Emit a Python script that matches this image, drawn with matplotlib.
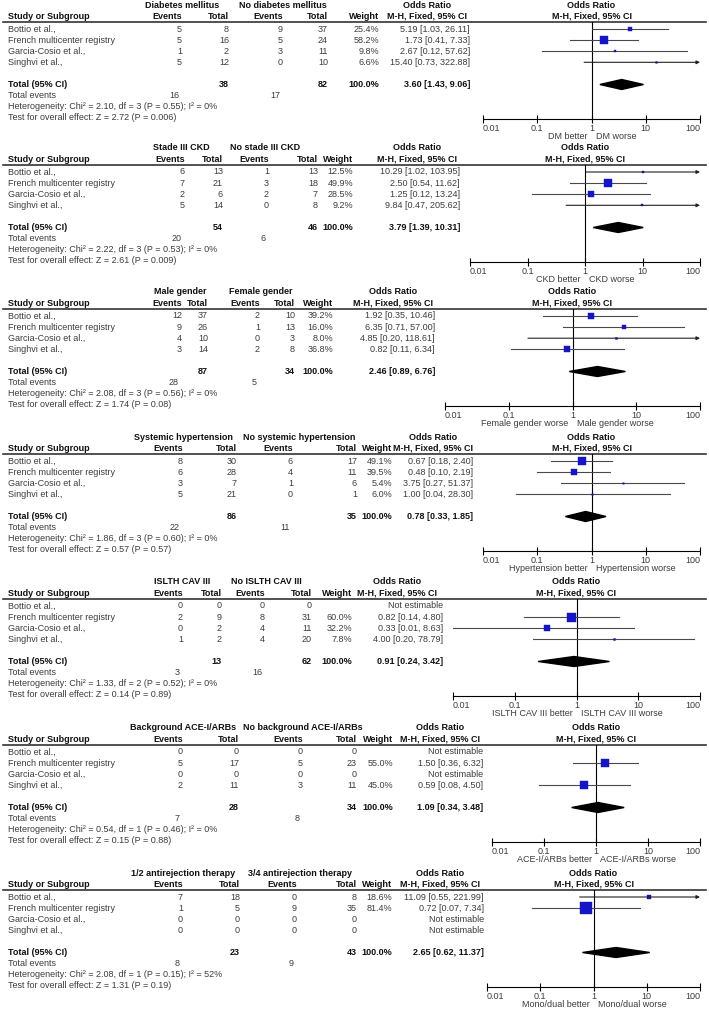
import matplotlib
matplotlib.use("Agg")
import matplotlib.pyplot as plt
from matplotlib.patches import Polygon

plt.rcParams['font.family'] = ['Liberation Sans', 'DejaVu Sans']

W, H = 709, 1009
FS = 6.5
GREY = '#3c3c3c'
DARK = '#111111'
BLUE = '#1414c8'

studies = ["Bottio et al.,", "French multicenter registry", "Garcia-Cosio et al.,", "Singhvi et al.,"]

# 1 - diabetes
dm_groups = ["Diabetes mellitus", "No diabetes mellitus"]
dm_ev1 = [5, 5, 1, 5]
dm_tot1 = [8, 16, 2, 12]
dm_ev2 = [9, 5, 3, 0]
dm_tot2 = [37, 24, 11, 10]
dm_w = [25.4, 58.2, 9.8, 6.6]
dm_or = [5.19, 1.73, 2.67, 15.40]
dm_lo = [1.03, 0.41, 0.12, 0.73]
dm_hi = [26.11, 7.33, 57.62, 322.88]
dm_totals = [38, 82]
dm_pooled = [3.60, 1.43, 9.06]
dm_events = [16, 17]
dm_het = "Heterogeneity: Chi² = 2.10, df = 3 (P = 0.55); I² = 0%"
dm_test = "Test for overall effect: Z = 2.72 (P = 0.006)"
dm_fav = ["DM better", "DM worse"]

# 2 - CKD
ckd_groups = ["Stade III CKD", "No stade III CKD"]
ckd_ev1 = [6, 7, 2, 5]
ckd_tot1 = [13, 21, 6, 14]
ckd_ev2 = [1, 3, 2, 0]
ckd_tot2 = [13, 18, 7, 8]
ckd_w = [12.5, 49.9, 28.5, 9.2]
ckd_or = [10.29, 2.50, 1.25, 9.84]
ckd_lo = [1.02, 0.54, 0.12, 0.47]
ckd_hi = [103.95, 11.62, 13.24, 205.62]
ckd_totals = [54, 46]
ckd_pooled = [3.79, 1.39, 10.31]
ckd_events = [20, 6]
ckd_het = "Heterogeneity: Chi² = 2.22, df = 3 (P = 0.53); I² = 0%"
ckd_test = "Test for overall effect: Z = 2.61 (P = 0.009)"
ckd_fav = ["CKD better", "CKD worse"]

# 3 - gender
sex_groups = ["Male gender", "Female gender"]
sex_ev1 = [12, 9, 4, 3]
sex_tot1 = [37, 26, 10, 14]
sex_ev2 = [2, 1, 0, 2]
sex_tot2 = [10, 13, 3, 8]
sex_w = [39.2, 16.0, 8.0, 36.8]
sex_or = [1.92, 6.35, 4.85, 0.82]
sex_lo = [0.35, 0.71, 0.20, 0.11]
sex_hi = [10.46, 57.00, 118.61, 6.34]
sex_totals = [87, 34]
sex_pooled = [2.46, 0.89, 6.76]
sex_events = [28, 5]
sex_het = "Heterogeneity: Chi² = 2.08, df = 3 (P = 0.56); I² = 0%"
sex_test = "Test for overall effect: Z = 1.74 (P = 0.08)"
sex_fav = ["Female gender worse", "Male gender worse"]

# 4 - hypertension
htn_groups = ["Systemic hypertension", "No systemic hypertension"]
htn_ev1 = [8, 6, 3, 5]
htn_tot1 = [30, 28, 7, 21]
htn_ev2 = [6, 4, 1, 0]
htn_tot2 = [17, 11, 6, 1]
htn_w = [49.1, 39.5, 5.4, 6.0]
htn_or = [0.67, 0.48, 3.75, 1.00]
htn_lo = [0.18, 0.10, 0.27, 0.04]
htn_hi = [2.40, 2.19, 51.37, 28.30]
htn_totals = [86, 35]
htn_pooled = [0.78, 0.33, 1.85]
htn_events = [22, 11]
htn_het = "Heterogeneity: Chi² = 1.86, df = 3 (P = 0.60); I² = 0%"
htn_test = "Test for overall effect: Z = 0.57 (P = 0.57)"
htn_fav = ["Hypertension better", "Hypertension worse"]

# 5 - ISLTH CAV III
cav_groups = ["ISLTH CAV III", "No ISLTH CAV III"]
cav_ev1 = [0, 2, 0, 1]
cav_tot1 = [0, 9, 2, 2]
cav_ev2 = [0, 8, 4, 4]
cav_tot2 = [0, 31, 11, 20]
cav_w = [None, 60.0, 32.2, 7.8]
cav_or = [None, 0.82, 0.33, 4.00]
cav_lo = [None, 0.14, 0.01, 0.20]
cav_hi = [None, 4.80, 8.63, 78.79]
cav_totals = [13, 62]
cav_pooled = [0.91, 0.24, 3.42]
cav_events = [3, 16]
cav_het = "Heterogeneity: Chi² = 1.33, df = 2 (P = 0.52); I² = 0%"
cav_test = "Test for overall effect: Z = 0.14 (P = 0.89)"
cav_fav = ["ISLTH CAV III better", "ISLTH CAV III worse"]

# 6 - ACE-I/ARBs
ace_groups = ["Background ACE-I/ARBs", "No background ACE-I/ARBs"]
ace_ev1 = [0, 5, 0, 2]
ace_tot1 = [0, 17, 0, 11]
ace_ev2 = [0, 5, 0, 3]
ace_tot2 = [0, 23, 0, 11]
ace_w = [None, 55.0, None, 45.0]
ace_or = [None, 1.50, None, 0.59]
ace_lo = [None, 0.36, None, 0.08]
ace_hi = [None, 6.32, None, 4.50]
ace_totals = [28, 34]
ace_pooled = [1.09, 0.34, 3.48]
ace_events = [7, 8]
ace_het = "Heterogeneity: Chi² = 0.54, df = 1 (P = 0.46); I² = 0%"
ace_test = "Test for overall effect: Z = 0.15 (P = 0.88)"
ace_fav = ["ACE-I/ARBs better", "ACE-I/ARBs worse"]

# 7 - antirejection therapy
arx_groups = ["1/2 antirejection therapy", "3/4 antirejection therapy"]
arx_ev1 = [7, 1, 0, 0]
arx_tot1 = [18, 5, 0, 0]
arx_ev2 = [0, 9, 0, 0]
arx_tot2 = [8, 35, 0, 0]
arx_w = [18.6, 81.4, None, None]
arx_or = [11.09, 0.72, None, None]
arx_lo = [0.55, 0.07, None, None]
arx_hi = [221.99, 7.34, None, None]
arx_totals = [23, 43]
arx_pooled = [2.65, 0.62, 11.37]
arx_events = [8, 9]
arx_het = "Heterogeneity: Chi² = 2.08, df = 1 (P = 0.15); I² = 52%"
arx_test = "Test for overall effect: Z = 1.31 (P = 0.19)"
arx_fav = ["Mono/dual better", "Mono/dual worse"]

panels = [
    (dm_groups, dm_ev1, dm_tot1, dm_ev2, dm_tot2, dm_w, dm_or, dm_lo, dm_hi, dm_totals, dm_pooled, dm_events, dm_het, dm_test, dm_fav),
    (ckd_groups, ckd_ev1, ckd_tot1, ckd_ev2, ckd_tot2, ckd_w, ckd_or, ckd_lo, ckd_hi, ckd_totals, ckd_pooled, ckd_events, ckd_het, ckd_test, ckd_fav),
    (sex_groups, sex_ev1, sex_tot1, sex_ev2, sex_tot2, sex_w, sex_or, sex_lo, sex_hi, sex_totals, sex_pooled, sex_events, sex_het, sex_test, sex_fav),
    (htn_groups, htn_ev1, htn_tot1, htn_ev2, htn_tot2, htn_w, htn_or, htn_lo, htn_hi, htn_totals, htn_pooled, htn_events, htn_het, htn_test, htn_fav),
    (cav_groups, cav_ev1, cav_tot1, cav_ev2, cav_tot2, cav_w, cav_or, cav_lo, cav_hi, cav_totals, cav_pooled, cav_events, cav_het, cav_test, cav_fav),
    (ace_groups, ace_ev1, ace_tot1, ace_ev2, ace_tot2, ace_w, ace_or, ace_lo, ace_hi, ace_totals, ace_pooled, ace_events, ace_het, ace_test, ace_fav),
    (arx_groups, arx_ev1, arx_tot1, arx_ev2, arx_tot2, arx_w, arx_or, arx_lo, arx_hi, arx_totals, arx_pooled, arx_events, arx_het, arx_test, arx_fav),
]

# column layout per panel (pixels): ev1, tot1, ev2, tot2, weight, OR text, group1 centre, group2 centre, OR header centre, forest left
layouts = [
    (182, 229, 283, 328, 379, 470, 182, 283, 427, 483),
    (185, 223, 269, 318, 353, 460, 181, 265, 417, 470),
    (182, 208, 260, 295, 333, 435, 180, 261, 393, 445),
    (183, 237, 293, 357, 392, 473, 183, 299, 433, 483),
    (183, 222, 265, 312, 352, 443, 182, 266, 397, 453),
    (183, 239, 303, 357, 393, 483, 183, 303, 440, 492),
    (183, 240, 297, 357, 392, 484, 183, 300, 440, 487),
]
tops = [5, 148, 292, 437, 582, 728, 873]
FOREST_RIGHT = 700
S = 11.1  # line pitch

fig = plt.figure(figsize=(W / 100, H / 100), dpi=100)
tab = fig.add_axes([0, 0, 1, 1])
tab.set_xlim(0, W)
tab.set_ylim(H, 0)
tab.axis('off')


def txt(x, y, s, ha='left', bold=False):
    tab.text(x, y, s, ha=ha, va='center', fontsize=FS,
             fontweight='bold' if bold else 'normal', color=DARK if bold else GREY)


for p, lay, y0 in zip(panels, layouts, tops):
    groups, ev1, tot1, ev2, tot2, wts, ors, los, his, totals, pooled, events, het, test, fav = p
    c_ev1, c_tot1, c_ev2, c_tot2, c_w, c_or, g1, g2, orc, fx0 = lay
    h2 = y0 + S
    rule_y = y0 + 17
    rows = [y0 + 24 + k * S for k in range(4)]
    tot_y = rows[0] + 5 * S
    ev_y = tot_y + S
    het_y = ev_y + S
    test_y = het_y + S
    axis_y = test_y + 1
    fc = (fx0 + FOREST_RIGHT) / 2

    # headers
    txt(g1, y0, groups[0], 'center', True)
    txt(g2, y0, groups[1], 'center', True)
    txt(orc, y0, "Odds Ratio", 'center', True)
    txt(fc, y0, "Odds Ratio", 'center', True)
    txt(8, h2, "Study or Subgroup", 'left', True)
    txt(c_ev1, h2, "Events", 'right', True)
    txt(c_tot1, h2, "Total", 'right', True)
    txt(c_ev2, h2, "Events", 'right', True)
    txt(c_tot2, h2, "Total", 'right', True)
    txt(c_w, h2, "Weight", 'right', True)
    txt(orc, h2, "M-H, Fixed, 95% CI", 'center', True)
    txt(fc, h2, "M-H, Fixed, 95% CI", 'center', True)
    tab.plot([3, 706], [rule_y, rule_y], color='#333333', lw=1.2)

    for i, y in enumerate(rows):
        txt(8, y, studies[i])
        txt(c_ev1, y, str(ev1[i]), 'right')
        txt(c_tot1, y, str(tot1[i]), 'right')
        txt(c_ev2, y, str(ev2[i]), 'right')
        txt(c_tot2, y, str(tot2[i]), 'right')
        if ors[i] is None:
            txt(c_or, y, "Not estimable", 'right')
        else:
            txt(c_w, y, f"{wts[i]:.1f}%", 'right')
            txt(c_or, y, f"{ors[i]:.2f} [{los[i]:.2f}, {his[i]:.2f}]", 'right')

    txt(8, tot_y, "Total (95% CI)", 'left', True)
    txt(c_tot1, tot_y, str(totals[0]), 'right', True)
    txt(c_tot2, tot_y, str(totals[1]), 'right', True)
    txt(c_w, tot_y, "100.0%", 'right', True)
    txt(c_or, tot_y, f"{pooled[0]:.2f} [{pooled[1]:.2f}, {pooled[2]:.2f}]", 'right', True)
    txt(8, ev_y, "Total events")
    txt(c_ev1 - 3, ev_y, str(events[0]), 'right')
    txt(c_ev2 - 3, ev_y, str(events[1]), 'right')
    txt(8, het_y, het)
    txt(8, test_y, test)

    # forest plot
    ax = fig.add_axes([fx0 / W, 1 - axis_y / H, (FOREST_RIGHT - fx0) / W, (axis_y - rule_y) / H])
    ax.set_xscale('log')
    ax.set_xlim(0.01, 100)
    ax.set_ylim(axis_y, rule_y)
    ax.patch.set_alpha(0)
    for s in ['top', 'left', 'right']:
        ax.spines[s].set_visible(False)
    ax.spines['bottom'].set_linewidth(0.8)
    ax.set_yticks([])
    ax.set_xticks([0.01, 0.1, 1, 10, 100])
    ax.set_xticklabels(["0.01", "0.1", "1", "10", "100"])
    ax.minorticks_off()
    ax.tick_params(axis='x', direction='inout', length=6, width=0.8, labelsize=FS,
                   labelcolor=GREY, pad=1)
    labs = ax.get_xticklabels()
    labs[0].set_ha('left')
    labs[-1].set_ha('right')
    ax.axvline(1, color='black', lw=0.8)

    for i, y in enumerate(rows):
        if ors[i] is None:
            continue
        lo = max(los[i], 0.01)
        if his[i] > 100:
            ax.annotate('', xy=(100, y), xytext=(lo, y),
                        arrowprops=dict(arrowstyle='-|>', color='#222222', lw=0.8,
                                        mutation_scale=5, shrinkA=0, shrinkB=0))
        else:
            ax.plot([lo, his[i]], [y, y], color='#4a4a4a', lw=0.8)
        side = 9 * (wts[i] / 60) ** 0.75 * 0.72
        ax.plot(ors[i], y, marker='s', ms=side, color=BLUE, mec=BLUE, mew=0.3)

    d = Polygon([(pooled[1], tot_y), (pooled[0], tot_y - 5), (pooled[2], tot_y), (pooled[0], tot_y + 5)],
                closed=True, color='black')
    ax.add_patch(d)

    fy = axis_y + 18
    ax.annotate(fav[0], xy=(1, fy), xycoords='data', xytext=(-3, 0), textcoords='offset points',
                ha='right', va='center', fontsize=FS, color=GREY, annotation_clip=False)
    ax.annotate(fav[1], xy=(1, fy), xycoords='data', xytext=(3, 0), textcoords='offset points',
                ha='left', va='center', fontsize=FS, color=GREY, annotation_clip=False)

fig.savefig('out.png', dpi=100)
